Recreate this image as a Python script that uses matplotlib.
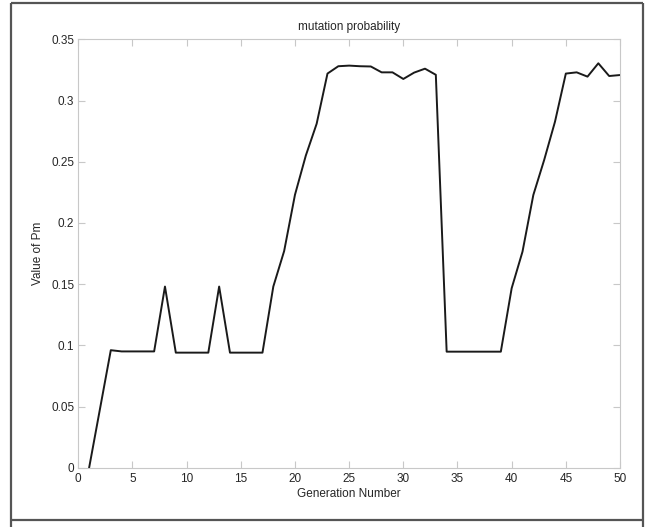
import matplotlib
matplotlib.use("Agg")
import matplotlib.pyplot as plt
from matplotlib.lines import Line2D

plt.rcParams['font.family'] = ['Liberation Sans', 'DejaVu Sans']

generations = list(range(1, 51))
pm_values = [
    0.000, 0.048, 0.096, 0.095, 0.095, 0.095, 0.095, 0.148, 0.094, 0.094,
    0.094, 0.094, 0.148, 0.094, 0.094, 0.094, 0.094, 0.148, 0.177, 0.223,
    0.255, 0.281, 0.322, 0.328, 0.3285, 0.328, 0.3278, 0.323, 0.323, 0.3176,
    0.3228, 0.326, 0.321, 0.0948, 0.0948, 0.0948, 0.0948, 0.0948, 0.0948, 0.1466,
    0.1765, 0.2228, 0.2514, 0.2827, 0.322, 0.323, 0.3195, 0.3304, 0.320, 0.3208,
]
x_ticks = [0, 5, 10, 15, 20, 25, 30, 35, 40, 45, 50]
y_ticks = [0, 0.05, 0.1, 0.15, 0.2, 0.25, 0.3, 0.35]
y_tick_labels = ['0', '0.05', '0.1', '0.15', '0.2', '0.25', '0.3', '0.35']

W, H = 649, 527
fig = plt.figure(figsize=(W / 100, H / 100), dpi=100)
ax = fig.add_axes([78.3 / W, 1 - 467.7 / H, (620 - 78.3) / W, (467.7 - 39.3) / H])

ax.plot(generations, pm_values, color='#1a1a1a', linewidth=1.4)

ax.set_xlim(0, 50)
ax.set_ylim(0, 0.35)
ax.set_xticks(x_ticks)
ax.set_yticks(y_ticks)
ax.set_yticklabels(y_tick_labels)

spine_color = '#c8c8c8'
for s in ax.spines.values():
    s.set_color(spine_color)
    s.set_linewidth(0.8)
ax.tick_params(direction='in', length=5, width=0.8, color=spine_color,
               labelsize=8.5, labelcolor='#262626', top=True, right=True, pad=3)
ax.tick_params(axis='x', pad=4)

ax.set_title('mutation probability', fontsize=8.5, color='#262626', pad=7)
ax.set_xlabel('Generation Number', fontsize=8.5, color='#262626', labelpad=2)
ax.set_ylabel('Value of Pm', fontsize=8.5, color='#262626', labelpad=5)

# surrounding panel frame
frame_color = '#555555'
def px_line(x0, y0, x1, y1):
    fig.add_artist(Line2D([x0 / W, x1 / W], [1 - y0 / H, 1 - y1 / H],
                          transform=fig.transFigure, color=frame_color,
                          linewidth=1.6, solid_capstyle='butt'))

px_line(11, 3, 643, 3)
px_line(11, 3, 11, 527)
px_line(643, 3, 643, 527)
px_line(11, 520, 643, 520)

fig.savefig('out.png', dpi=100)
